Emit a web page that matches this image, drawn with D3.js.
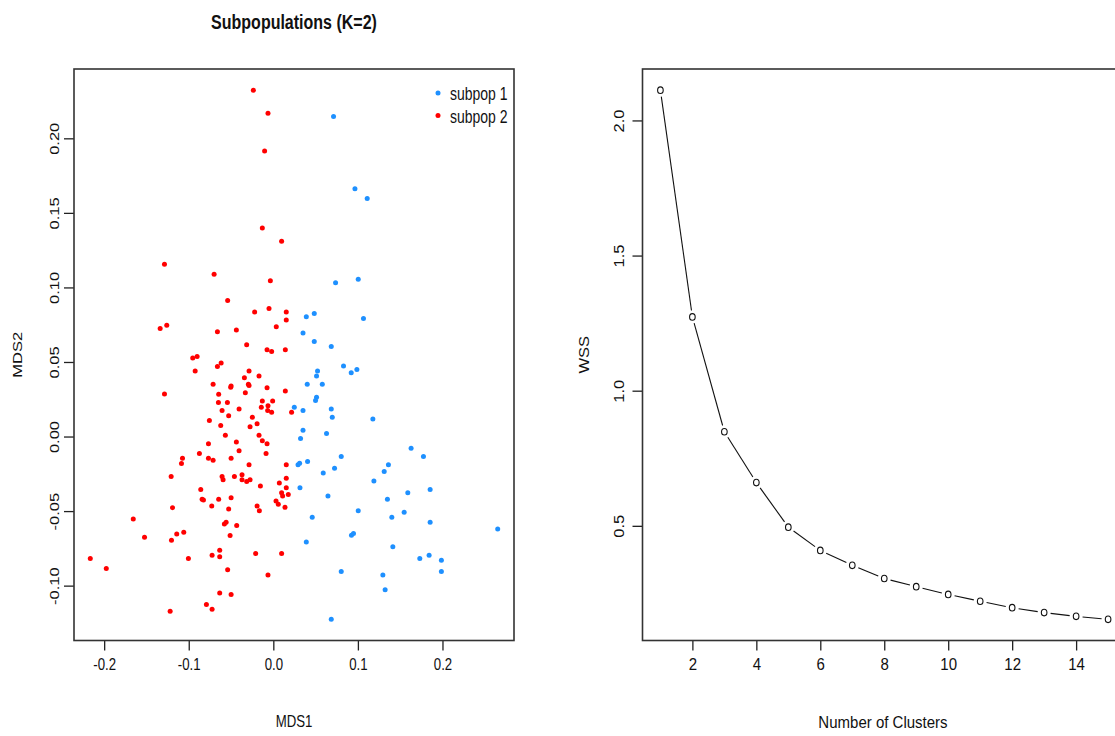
<!DOCTYPE html>
<html>
<head>
<meta charset="utf-8">
<script src="https://cdn.jsdelivr.net/npm/d3@7"></script>
<style>
  html, body { margin: 0; padding: 0; background: #fff; }
  svg { display: block; font-family: "Liberation Sans", Arial, sans-serif; }
</style>
</head>
<body>
<svg id="chart" width="1115" height="736"></svg>
<script>
// MDS coordinates [MDS1, MDS2] for each subpopulation
const subpop1 = [
  [0.0712,0.2147],[0.0965,0.1661],[0.1110,0.1597],[0.0736,0.1032],[0.1004,0.1055],
  [0.0390,0.0803],[0.0484,0.0825],[0.1066,0.0791],[0.0351,0.0694],[0.0484,0.0637],
  [0.0685,0.0604],[0.0830,0.0473],[0.0921,0.0428],[0.0988,0.0450],[0.0523,0.0439],
  [0.0511,0.0406],[0.0401,0.0350],[0.0579,0.0350],[0.0511,0.0263],[0.0499,0.0241],
  [0.0248,0.0196],[0.0351,0.0174],[0.0685,0.0185],[0.0697,0.0129],[0.1177,0.0118],
  [0.0351,0.0042],[0.0322,-0.0013],[0.0629,0.0020],[0.1629,-0.0078],[0.0292,-0.0189],
  [0.0311,-0.0179],[0.0405,-0.0167],[0.0315,-0.0343],[0.0390,-0.0707],[0.0803,-0.0134],
  [0.1775,-0.0134],[0.0590,-0.0245],[0.0724,-0.0212],[0.1361,-0.0189],[0.1311,-0.0234],
  [0.1189,-0.0299],[0.0646,-0.0399],[0.1349,-0.0421],[0.1590,-0.0377],[0.1854,-0.0355],
  [0.1004,-0.0497],[0.1547,-0.0508],[0.0460,-0.0542],[0.1401,-0.0542],[0.1854,-0.0575],
  [0.2653,-0.0620],[0.0924,-0.0662],[0.0948,-0.0651],[0.1413,-0.0740],[0.1732,-0.0818],
  [0.1842,-0.0796],[0.1987,-0.0829],[0.1987,-0.0905],[0.0803,-0.0905],[0.1295,-0.0928],
  [0.1322,-0.1028],[0.0685,-0.1226]
];
const subpop2 = [
  [-0.0236,0.2323],[-0.0063,0.2169],[-0.0103,0.1915],[-0.0130,0.1398],[0.0098,0.1309],
  [-0.1287,0.1155],[-0.0700,0.1088],[-0.0035,0.1045],[-0.0540,0.0912],[-0.0221,0.0836],
  [-0.0051,0.0858],[0.0153,0.0836],[0.0153,0.0781],[0.0035,0.0736],[-0.1338,0.0724],
  [-0.1260,0.0747],[-0.0661,0.0702],[-0.0437,0.0714],[-0.0315,0.0615],[-0.0074,0.0582],
  [-0.0020,0.0571],[0.0142,0.0582],[-0.0953,0.0526],[-0.0901,0.0537],[-0.0661,0.0470],
  [-0.0617,0.0493],[-0.0924,0.0439],[-0.0287,0.0439],[-0.0342,0.0395],[-0.0169,0.0406],
  [-0.0712,0.0350],[-0.0499,0.0339],[-0.0504,0.0330],[-0.0295,0.0350],[-0.0287,0.0343],
  [-0.0074,0.0328],[0.0142,0.0306],[-0.1287,0.0286],[-0.0646,0.0283],[-0.0331,0.0294],
  [-0.0649,0.0229],[-0.0543,0.0229],[-0.0130,0.0239],[-0.0008,0.0239],[-0.0606,0.0174],
  [-0.0405,0.0185],[-0.0142,0.0196],[-0.0063,0.0207],[-0.0067,0.0174],[-0.0020,0.0163],
  [0.0216,0.0163],[-0.0528,0.0140],[-0.0248,0.0129],[-0.0756,0.0107],[-0.0622,0.0074],
  [-0.0275,0.0065],[-0.0192,0.0085],[-0.0567,0.0009],[-0.0169,0.0009],[-0.0130,-0.0028],
  [-0.0074,-0.0048],[-0.0767,-0.0048],[-0.0437,-0.0037],[-0.0405,-0.0096],[-0.0874,-0.0114],
  [-0.1074,-0.0145],[-0.1086,-0.0181],[-0.0767,-0.0145],[-0.0712,-0.0159],[-0.0499,-0.0145],
  [-0.0086,-0.0114],[-0.0287,-0.0189],[0.0153,-0.0189],[-0.1208,-0.0268],[-0.0606,-0.0268],
  [-0.0594,-0.0290],[-0.0460,-0.0268],[-0.0370,-0.0256],[-0.0370,-0.0290],[-0.0315,-0.0301],
  [-0.0275,-0.0290],[-0.0153,-0.0332],[0.0071,-0.0312],[0.0153,-0.0279],[0.0153,-0.0343],
  [0.0098,-0.0377],[0.0110,-0.0399],[0.0177,-0.0388],[-0.0858,-0.0355],[-0.0842,-0.0421],
  [-0.0826,-0.0425],[-0.0646,-0.0421],[-0.0499,-0.0410],[-0.0728,-0.0466],[-0.0528,-0.0486],
  [-0.0192,-0.0466],[-0.0165,-0.0497],[0.0032,-0.0433],[0.0059,-0.0455],[0.0138,-0.0475],
  [-0.1192,-0.0477],[-0.1656,-0.0553],[-0.1523,-0.0676],[-0.1204,-0.0696],[-0.1142,-0.0654],
  [-0.1059,-0.0642],[-0.0579,-0.0587],[-0.0558,-0.0575],[-0.0433,-0.0597],[-0.0511,-0.0664],
  [-0.2164,-0.0818],[-0.1975,-0.0885],[-0.1004,-0.0818],[-0.0724,-0.0796],[-0.0634,-0.0763],
  [-0.0634,-0.0807],[-0.0209,-0.0785],[0.0098,-0.0785],[-0.0540,-0.0894],[-0.0063,-0.0928],
  [-0.0634,-0.1050],[-0.0499,-0.1059],[-0.0791,-0.1126],[-0.0724,-0.1159],[-0.1220,-0.1171]
];
const popLabels = ["subpop 1", "subpop 2"];
const popColors = ["#1E90FF", "#FF0000"];
const mdsXTicks = [-0.2, -0.1, 0.0, 0.1, 0.2];
const mdsYTicks = [-0.10, -0.05, 0.00, 0.05, 0.10, 0.15, 0.20];

// Within-groups sum of squares by number of clusters
const clusterK = [1, 2, 3, 4, 5, 6, 7, 8, 9, 10, 11, 12, 13, 14, 15];
const wss = [2.112, 1.273, 0.848, 0.660, 0.495, 0.409, 0.354, 0.305, 0.275, 0.246, 0.221, 0.197, 0.179, 0.165, 0.154];
const kTicks = [2, 4, 6, 8, 10, 12, 14];
const wssTicks = [0.5, 1.0, 1.5, 2.0];

const svg = d3.select("#chart");
const FS = 16.5;

// extend a range by 4% on each side, as base graphics do
function padded(ext) {
  const r = ext[1] - ext[0];
  return [ext[0] - 0.04 * r, ext[1] + 0.04 * r];
}

function label(g, txt, x, y, opts = {}) {
  const sx = opts.sx || 1;
  const rot = opts.rotate ? " rotate(-90)" : "";
  return g.append("text")
    .attr("transform", `translate(${x},${y}) scale(${sx},1)${rot}`)
    .attr("text-anchor", "middle")
    .attr("dy", "0.35em")
    .attr("font-size", opts.size || FS)
    .attr("font-weight", opts.bold ? "bold" : null)
    .attr("fill", "#111")
    .text(txt);
}

function frame(g, box) {
  g.append("rect")
    .attr("x", box.left).attr("y", box.top)
    .attr("width", box.right - box.left).attr("height", box.bottom - box.top)
    .attr("fill", "none").attr("stroke", "#333").attr("stroke-width", 1.6);
}

function styleAxis(a, sx, rotated, offset) {
  a.select(".domain").remove();
  a.selectAll(".tick line").attr("stroke", "#222").attr("stroke-width", 1.3);
  a.selectAll(".tick text")
    .attr("font-size", FS).attr("font-family", null).attr("fill", "#111")
    .attr("x", 0).attr("y", 0).attr("dy", "0.35em")
    .attr("text-anchor", "middle")
    .attr("transform", rotated
      ? `translate(${-offset},0) scale(${sx},1) rotate(-90)`
      : `translate(0,${offset}) scale(${sx},1)`);
}

// ---------- left panel: MDS scatter ----------
const L = { left: 74, right: 514, top: 69, bottom: 640.5, sx: 0.8 };
const allPts = subpop1.concat(subpop2);
const xL = d3.scaleLinear().domain(padded(d3.extent(allPts, d => d[0]))).range([L.left, L.right]);
const yL = d3.scaleLinear().domain(padded(d3.extent(allPts, d => d[1]))).range([L.bottom, L.top]);

const gL = svg.append("g");
[subpop1, subpop2].forEach((pts, i) => {
  gL.append("g").selectAll("circle").data(pts).join("circle")
    .attr("cx", d => xL(d[0])).attr("cy", d => yL(d[1]))
    .attr("r", 2.5).attr("fill", popColors[i]);
});

gL.append("g").attr("transform", `translate(0,${L.bottom})`)
  .call(d3.axisBottom(xL).tickValues(mdsXTicks).tickFormat(d => d.toFixed(1)).tickSize(10))
  .call(a => styleAxis(a, L.sx, false, 24));
gL.append("g").attr("transform", `translate(${L.left},0)`)
  .call(d3.axisLeft(yL).tickValues(mdsYTicks).tickFormat(d => d.toFixed(2)).tickSize(10))
  .call(a => styleAxis(a, L.sx, true, 19.5));
frame(gL, L);

label(gL, "Subpopulations (K=2)", (L.left + L.right) / 2, 22, { bold: true, size: 20, sx: L.sx });
label(gL, "MDS1", (L.left + L.right) / 2, 721, { sx: L.sx });
label(gL, "MDS2", 17, (L.top + L.bottom) / 2, { sx: L.sx, rotate: true });

// legend
const lg = gL.append("g").attr("transform", `translate(${L.right - 76},${L.top + 24})`);
popLabels.forEach((t, i) => {
  lg.append("circle").attr("cx", 0).attr("cy", i * 22.5).attr("r", 2.5).attr("fill", popColors[i]);
  lg.append("text")
    .attr("transform", `translate(12,${i * 22.5 + 1}) scale(${L.sx},1)`)
    .attr("dy", "0.35em").attr("font-size", 17.5).attr("fill", "#111").text(t);
});

// ---------- right panel: elbow plot ----------
const R = { left: 642.5, right: 1126, top: 69, bottom: 640.5, sx: 0.91 };
const xR = d3.scaleLinear().domain(padded(d3.extent(clusterK))).range([R.left, R.right]);
const yR = d3.scaleLinear().domain(padded(d3.extent(wss))).range([R.bottom, R.top]);

const gR = svg.append("g");
const pts = clusterK.map((k, i) => [xR(k), yR(wss[i])]);
const gap = 6.5;
const segs = d3.pairs(pts).map(([a, b]) => {
  const dx = b[0] - a[0], dy = b[1] - a[1], len = Math.hypot(dx, dy);
  const ux = dx / len, uy = dy / len;
  return [[a[0] + ux * gap, a[1] + uy * gap], [b[0] - ux * gap, b[1] - uy * gap]];
});
gR.append("g").selectAll("line").data(segs).join("line")
  .attr("x1", d => d[0][0]).attr("y1", d => d[0][1])
  .attr("x2", d => d[1][0]).attr("y2", d => d[1][1])
  .attr("stroke", "#111").attr("stroke-width", 1.1);
gR.append("g").selectAll("ellipse").data(pts).join("ellipse")
  .attr("cx", d => d[0]).attr("cy", d => d[1])
  .attr("rx", 2.8).attr("ry", 3.3)
  .attr("fill", "none").attr("stroke", "#111").attr("stroke-width", 1.1);

gR.append("g").attr("transform", `translate(0,${R.bottom})`)
  .call(d3.axisBottom(xR).tickValues(kTicks).tickFormat(d3.format("d")).tickSize(10))
  .call(a => styleAxis(a, R.sx, false, 24));
gR.append("g").attr("transform", `translate(${R.left},0)`)
  .call(d3.axisLeft(yR).tickValues(wssTicks).tickFormat(d => d.toFixed(1)).tickSize(10))
  .call(a => styleAxis(a, R.sx, true, 24));
frame(gR, R);

label(gR, "Number of Clusters", 883, 722, { sx: R.sx });
label(gR, "WSS", R.left - 59, (R.top + R.bottom) / 2, { sx: R.sx, rotate: true });
</script>
</body>
</html>
